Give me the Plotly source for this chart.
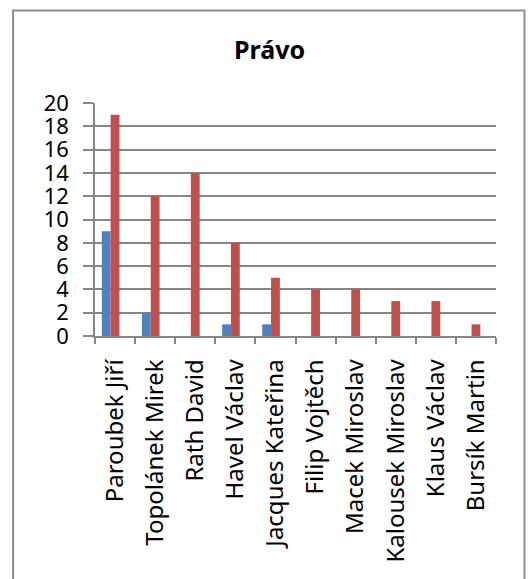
import plotly.graph_objects as go

categories = ["Paroubek Jiří", "Topolánek Mirek", "Rath David", "Havel Václav",
              "Jacques Kateřina", "Filip Vojtěch", "Macek Miroslav",
              "Kalousek Miroslav", "Klaus Václav", "Bursík Martin"]
blue_values = [9, 2, 0, 1, 1, 0, 0, 0, 0, 0]
red_values = [19, 12, 14, 8, 5, 4, 4, 3, 3, 1]
y_ticks = [0, 2, 4, 6, 8, 10, 12, 14, 16, 18, 20]
title_text = "Právo"

W, H = 531, 579
PL, PR, PT, PB = 95, 496.5, 103.3, 336.5   # plot area in px
pw, ph = PR - PL, PB - PT

FONT = "Noto Sans"
GRID = "#868686"

fig = go.Figure()
fig.add_trace(go.Bar(x=categories, y=blue_values, marker_color="#4F81BD",
                     marker_line_width=0, width=0.22, offset=-0.33, name="A"))
fig.add_trace(go.Bar(x=categories, y=red_values, marker_color="#C0504D",
                     marker_line_width=0, width=0.22, offset=-0.11, name="B"))

def px_x(v):
    return (v - PL) / pw

def px_y(v):
    return (PB - v) / ph

fig.add_shape(type="rect", xref="paper", yref="paper",
              x0=px_x(13), x1=px_x(525), y0=px_y(590), y1=px_y(10.7),
              line=dict(color="#8c8c8c", width=2), fillcolor="rgba(0,0,0,0)",
              layer="below")

fig.update_layout(
    width=W, height=H,
    margin=dict(l=PL, r=W - PR, t=PT, b=H - PB, pad=0),
    paper_bgcolor="white", plot_bgcolor="white",
    barmode="overlay",
    showlegend=False,
    title=dict(text="<b>" + title_text + "</b>", x=269.5 / W, xanchor="center",
               y=1 - 50 / H, yanchor="middle", yref="container",
               font=dict(family=FONT, size=25, color="black")),
    font=dict(family=FONT, color="black"),
    xaxis=dict(type="category", tickangle=-90, tickson="boundaries",
               ticks="outside", ticklen=6, tickcolor=GRID, tickwidth=1.5,
               showline=True, linecolor=GRID, linewidth=1.5,
               showgrid=False, tickfont=dict(size=24, family=FONT),
               ticklabelstandoff=12, range=[-0.5, 9.5]),
    yaxis=dict(range=[0, 20], tickvals=y_ticks, ticks="outside", ticklen=10,
               tickcolor=GRID, tickwidth=1.5, showline=True, linecolor=GRID,
               linewidth=1.5, showgrid=True, gridcolor=GRID, gridwidth=1.5,
               zeroline=False, tickfont=dict(size=22, family=FONT),
               ticklabelstandoff=10),
)

fig.write_html("out.html", config={"displayModeBar": False},
               post_script="document.body.style.margin='0';"
                           "document.body.style.overflow='hidden';")
